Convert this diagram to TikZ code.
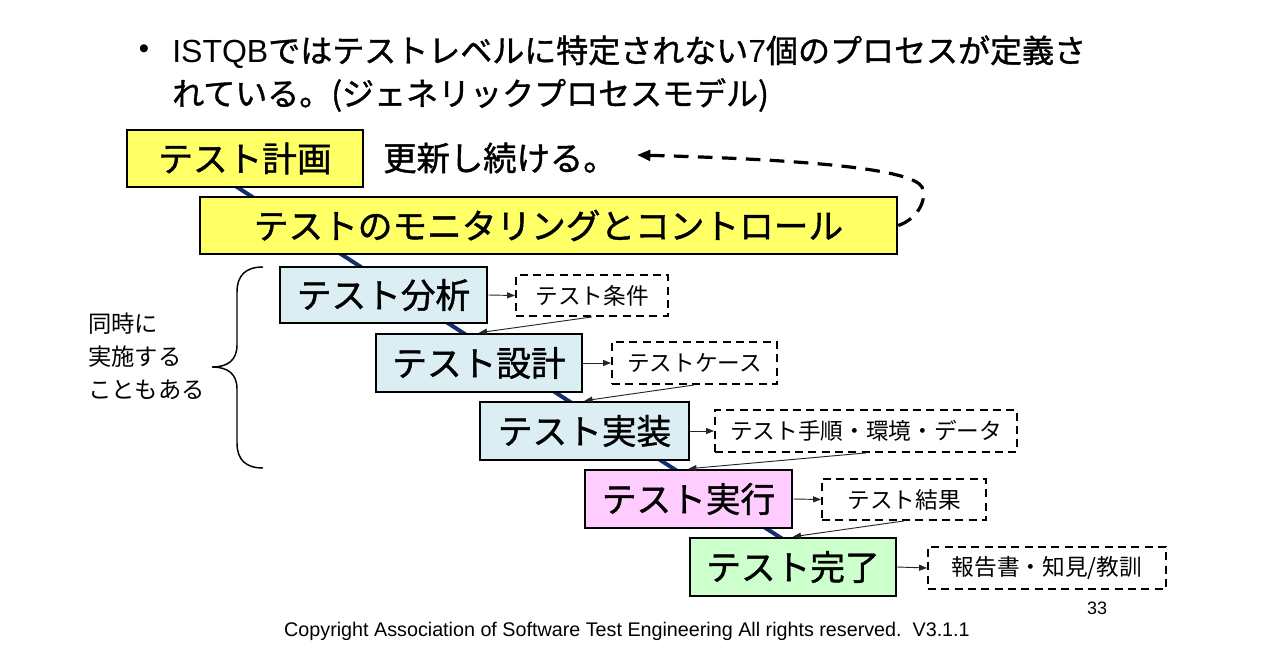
\documentclass[tikz,border=0pt]{standalone}
\usepackage{fontspec}
\setmainfont{Liberation Sans}
\newfontfamily\jp{Noto Sans CJK JP}
\newfontfamily\jpb[FakeBold=1.2]{Noto Sans CJK JP}
\usetikzlibrary{arrows.meta}
\definecolor{yel}{HTML}{FFFF66}
\definecolor{lblue}{HTML}{DAEEF3}
\definecolor{lpink}{HTML}{FFCCFF}
\definecolor{lgreen}{HTML}{CCFFCC}
\definecolor{navy}{HTML}{12306E}
\tikzset{
  procbox/.style={draw=black, line width=1.9pt, inner sep=0pt, font=\jpb\fontsize{26}{30}\selectfont},
  outbox/.style={draw=black, line width=1.4pt, dash pattern=on 6pt off 4pt, inner sep=0pt, font=\jp\fontsize{17}{20}\selectfont},
  thinarrow/.style={draw=black!85, line width=0.7pt, -{Triangle[length=6pt,width=4.5pt]}},
  loopline/.style={draw=black, line width=2.4pt, dash pattern=on 11pt off 7pt, -{Triangle[length=10pt,width=8pt]}},
  navyline/.style={draw=navy, line width=3pt},
  bracestyle/.style={draw=black, line width=1.1pt},
  jtext/.style={inner sep=0pt, font=\jpb\fontsize{#1}{#1}\selectfont},
}
\begin{document}
\begin{tikzpicture}[x=0.75pt, y=-0.75pt]
\useasboundingbox (0,0) rectangle (1280,670);
% bullet text
\node[inner sep=0pt, font=\fontsize{22}{24}\selectfont] (bul) at (144,52) {•};
\node[inner sep=0pt, anchor=west, font=\fontsize{24}{28}\selectfont] (l1) at (172,52) {ISTQB{\jpb ではテストレベルに特定されない}7{\jpb 個のプロセスが定義さ}};
\node[inner sep=0pt, anchor=west, font=\jpb\fontsize{24}{28}\selectfont] (l2) at (172,95) {れている。(ジェネリックプロセスモデル)};
% navy backbone line
\coordinate (n1) at (192,158);
\coordinate (n2) at (826,567);
\draw[navyline] (n1) -- (n2);
% process boxes
\node[procbox, fill=yel, minimum width=236*0.75pt, minimum height=57*0.75pt] (plan) at (245,158.5) {テスト計画};
\node[procbox, fill=yel, minimum width=697*0.75pt, minimum height=57*0.75pt] (mon) at (548.5,225.5) {テストのモニタリングとコントロール};
\node[procbox, fill=lblue, minimum width=207*0.75pt, minimum height=56*0.75pt] (ana) at (383.5,295) {テスト分析};
\node[procbox, fill=lblue, minimum width=206*0.75pt, minimum height=58*0.75pt] (des) at (479,363) {テスト設計};
\node[procbox, fill=lblue, minimum width=209*0.75pt, minimum height=58*0.75pt] (imp) at (584.5,431) {テスト実装};
\node[procbox, fill=lpink, minimum width=207*0.75pt, minimum height=58*0.75pt] (exe) at (688.5,499) {テスト実行};
\node[procbox, fill=lgreen, minimum width=206*0.75pt, minimum height=58*0.75pt] (cmp) at (793,567) {テスト完了};
% outputs
\node[outbox, minimum width=152*0.75pt, minimum height=41*0.75pt] (cond) at (592,295.5) {テスト条件};
\node[outbox, minimum width=165*0.75pt, minimum height=42*0.75pt] (case) at (694.5,363) {テストケース};
\node[outbox, minimum width=302*0.75pt, minimum height=42*0.75pt] (proc) at (866,431) {テスト手順・環境・データ};
\node[outbox, minimum width=164*0.75pt, minimum height=41*0.75pt] (res) at (904,499.5) {テスト結果};
\node[outbox, minimum width=238*0.75pt, minimum height=42*0.75pt] (rep) at (1047,568) {報告書・知見/教訓};
% arrows
\draw[thinarrow] (ana.east) -- (cond.west);
\draw[thinarrow] (des.east) -- (case.west);
\draw[thinarrow] (imp.east) -- (proc.west);
\draw[thinarrow] (exe.east) -- (res.west);
\draw[thinarrow] (cmp.east) -- (rep.west);
\draw[thinarrow] (cond.south) -- (des.north);
\draw[thinarrow] (case.south) -- (imp.north);
\draw[thinarrow] (proc.south) -- (exe.north);
\draw[thinarrow] (res.south) -- (cmp.north);
% update text and loop
\node[jtext=25, anchor=west] (upd) at (383,158) {更新し続ける。};
\coordinate (tip) at (637,155);
\draw[loopline] (mon.east) .. controls (915,220) and (928,202) .. (922,187) .. controls (912,170) and (820,160) .. (tip);
% brace and side note
\draw[bracestyle] (263,267) .. controls (246,267) and (237,275) .. (237,292) -- (237,345) .. controls (237,360) and (228,367) .. (212,367) .. controls (228,367) and (237,374) .. (237,389) -- (237,443) .. controls (237,460) and (246,468) .. (263,468);
\node[anchor=west, align=left, inner sep=0pt, font=\jp\fontsize{17.5}{24.75}\selectfont] (side) at (88,356) {同時に\\実施する\\こともある};
% footer
\node[inner sep=0pt, font=\fontsize{13.5}{16}\selectfont] (pg) at (1097,608) {33};
\node[inner sep=0pt, font=\fontsize{14.8}{17}\selectfont] (copy) at (627,631) {Copyright Association of Software Test Engineering All rights reserved.\ \ V3.1.1};
\end{tikzpicture}
\end{document}
